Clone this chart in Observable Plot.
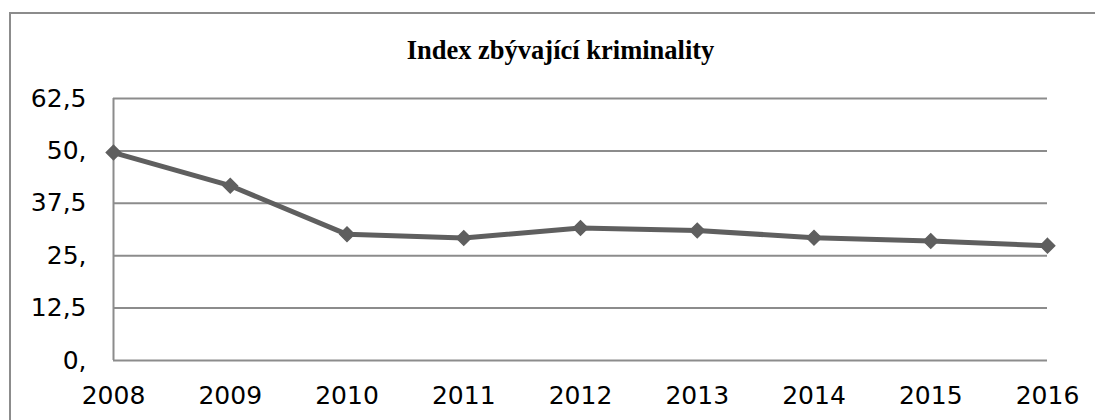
<!DOCTYPE html>
<html>
<head>
<meta charset="utf-8">
<script src="https://cdn.jsdelivr.net/npm/d3@7"></script>
<script src="https://cdn.jsdelivr.net/npm/@observablehq/plot@0.6"></script>
<style>
  html, body { margin: 0; padding: 0; background: #fff; }
  #wrap { position: relative; width: 1095px; height: 420px; overflow: hidden; }
  #border { position: absolute; left: 9px; top: 12px; width: 1200px; height: 500px;
            border-top: 2px solid #8c8c8c; border-left: 2px solid #8c8c8c; }
  #chart { position: absolute; left: 0; top: 0; }
</style>
</head>
<body>
<div id="wrap"><div id="border"></div><div id="chart"></div></div>
<script>
const title = "Index zbývající kriminality";
const years = [2008, 2009, 2010, 2011, 2012, 2013, 2014, 2015, 2016];
const values = [49.6, 41.7, 30.1, 29.2, 31.6, 31.0, 29.3, 28.5, 27.4];
const yTicks = [0, 12.5, 25, 37.5, 50, 62.5];
const yTickLabels = ["0,", "12,5", "25,", "37,5", "50,", "62,5"];

const data = years.map((year, i) => ({year, value: values[i]}));
const gridColor = "#8c8c8c";
const lineColor = "#5f5f5f";

const chart = Plot.plot({
  width: 1095,
  height: 420,
  marginLeft: 113,
  marginRight: 48,
  marginTop: 98,
  marginBottom: 60,
  style: {fontFamily: "DejaVu Sans, Verdana, sans-serif", fontSize: "25px", color: "#000", background: "transparent"},
  x: {domain: [years[0], years[years.length - 1]], ticks: years, tickFormat: d => String(d), label: null},
  y: {domain: [0, 62.5], ticks: yTicks, tickFormat: d => yTickLabels[yTicks.indexOf(d)], label: null},
  marks: [
    Plot.ruleY(yTicks, {stroke: gridColor, strokeWidth: 2, strokeOpacity: 1}),
    Plot.ruleX([years[0]], {stroke: gridColor, strokeWidth: 2, strokeOpacity: 1}),
    Plot.axisY({ticks: yTicks, tickFormat: d => yTickLabels[yTicks.indexOf(d)], tickSize: 0, tickPadding: 27, fontSize: 25, fill: "#000", label: null}),
    Plot.axisX({ticks: years, tickFormat: d => String(d), tickSize: 0, tickPadding: 26, fontSize: 25, fill: "#000", label: null}),
    Plot.line(data, {x: "year", y: "value", stroke: lineColor, strokeWidth: 5}),
    Plot.dot(data, {x: "year", y: "value", symbol: "diamond2", r: 6.5, fill: lineColor, stroke: lineColor}),
    Plot.text([title], {frameAnchor: "top", dx: -20, dy: -58, text: d => d, fontFamily: "Liberation Serif, Times New Roman, serif", fontWeight: "bold", fontSize: 26.5, fill: "#000"})
  ]
});
document.getElementById("chart").appendChild(chart);
</script>
</body>
</html>
